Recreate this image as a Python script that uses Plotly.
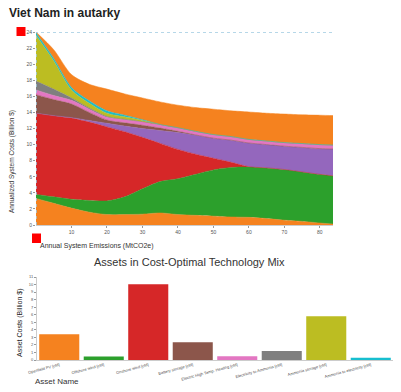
import plotly.graph_objects as go

W, H = 401, 392

# ---------- data: stacked annualized costs vs emissions ----------
emissions = [0, 5, 10, 15, 20, 25, 30, 35, 40, 45, 50, 55, 60, 65, 70, 75, 80, 84]
openfield_pv = [3.3, 2.7, 2.1, 1.6, 1.3, 1.3, 1.35, 1.5, 1.3, 1.2, 1.1, 1.0, 0.95, 0.8, 0.6, 0.45, 0.25, 0.1]
offshore_wind = [0.5, 0.8, 1.1, 1.45, 1.7, 2.2, 3.15, 3.9, 4.45, 5.1, 5.75, 6.15, 6.25, 6.3, 6.3, 6.15, 6.05, 6.0]
onshore_wind = [10.1, 10.1, 10.1, 9.75, 9.2, 8.1, 6.4, 4.75, 3.65, 2.5, 1.45, 0.65, 0.05, 0, 0, 0, 0, 0]
fossil_gen = [0, 0, 0.05, 0.2, 0.45, 0.7, 1.1, 1.6, 2.1, 2.35, 2.5, 2.75, 2.95, 2.9, 2.9, 3.05, 3.2, 3.35]
battery = [2.3, 2.0, 1.7, 1.0, 0.4, 0.4, 0.4, 0.3, 0.15, 0.05, 0, 0, 0, 0, 0, 0, 0, 0]
heating = [0.6, 0.5, 0.45, 0.4, 0.35, 0.4, 0.45, 0.45, 0.45, 0.45, 0.45, 0.45, 0.45, 0.45, 0.45, 0.48, 0.5, 0.5]
elec_to_nh3 = [1.1, 0.8, 0.3, 0.15, 0.1, 0.05, 0, 0, 0, 0, 0, 0, 0, 0, 0, 0, 0, 0]
nh3_storage = [5.7, 3.5, 1.0, 0.6, 0.4, 0.3, 0.15, 0, 0, 0, 0, 0, 0, 0, 0, 0, 0, 0]
nh3_to_elec = [0.3, 0.3, 0.3, 0.3, 0.3, 0.2, 0.1, 0, 0, 0, 0, 0, 0, 0, 0, 0, 0, 0]
other_costs = [0.1, 1.1, 1.6, 2.05, 2.7, 2.65, 2.7, 2.8, 2.8, 2.95, 3.15, 3.2, 3.4, 3.45, 3.55, 3.57, 3.65, 3.65]

series_names = ["Openfield PV", "Offshore wind", "Onshore wind", "Fossil generation",
                "Battery storage", "Electric High Temp. Heating", "Electricity to Ammonia",
                "Ammonia storage", "Ammonia to electricity", "Other costs"]
series_values = [openfield_pv, offshore_wind, onshore_wind, fossil_gen, battery, heating,
                 elec_to_nh3, nh3_storage, nh3_to_elec, other_costs]
series_colors = ["#f5821f", "#2ca02c", "#d62728", "#9467bd", "#8c564b", "#e377c2",
                 "#7f7f7f", "#bcbd22", "#17becf", "#f5821f"]

# ---------- data: asset bar chart ----------
asset_names = ["Openfield PV [cfd]", "Offshore wind [cfd]", "Onshore wind [cfd]",
               "Battery storage [cfd]", "Electric High Temp. Heating [cfd]",
               "Electricity to Ammonia [cfd]", "Ammonia storage [cfd]",
               "Ammonia to electricity [cfd]"]
asset_costs = [3.4, 0.45, 10.05, 2.35, 0.5, 1.2, 5.8, 0.3]
asset_colors = ["#f5821f", "#2ca02c", "#d62728", "#8c564b", "#e377c2", "#7f7f7f", "#bcbd22", "#17becf"]

# reference cap (dotted guide)
cap_x = [0, 0, 84]
cap_y = [0, 24, 24]

FONT = "Liberation Sans"

def px_x(p):
    return p / W

def px_y(p):
    return 1 - p / H

fig = go.Figure()

for name, vals, col in zip(series_names, series_values, series_colors):
    fig.add_trace(go.Scatter(
        x=emissions, y=vals, name=name, stackgroup="one", mode="lines",
        line=dict(width=0.5, color=col, shape="spline", smoothing=0.8),
        fillcolor=col, xaxis="x", yaxis="y", showlegend=False))

fig.add_trace(go.Scatter(
    x=cap_x, y=cap_y, mode="lines", line=dict(color="#9ecae1", width=1.5, dash="dot"),
    xaxis="x", yaxis="y", showlegend=False, hoverinfo="skip"))

fig.add_trace(go.Bar(
    x=asset_names, y=asset_costs, marker=dict(color=asset_colors, line=dict(width=0)),
    xaxis="x2", yaxis="y2", showlegend=False))

fig.update_layout(
    width=W, height=H, margin=dict(l=0, r=0, t=0, b=0),
    paper_bgcolor="white", plot_bgcolor="white",
    font=dict(family=FONT, color="#333333"),
    bargap=0.1,
    xaxis=dict(domain=[px_x(36), px_x(333)], range=[0, 83.7], anchor="y", automargin=False,
               tickvals=[10, 20, 30, 40, 50, 60, 70, 80], tickfont=dict(size=5, color="#555"),
               ticks="outside", ticklen=2, tickcolor="#999", showgrid=False, zeroline=False,
               showline=True, linecolor="#cccccc", linewidth=1),
    yaxis=dict(domain=[px_y(225), px_y(32)], range=[0, 24], anchor="x", automargin=False,
               tickvals=list(range(0, 25, 2)), tickfont=dict(size=5, color="#555"),
               ticks="outside", ticklen=2, tickcolor="#999", showgrid=False, zeroline=False,
               showline=False),
    xaxis2=dict(domain=[px_x(37), px_x(393)], anchor="y2", tickangle=-15, automargin=False,
                tickfont=dict(size=4, color="#555"), showgrid=False, zeroline=False,
                showline=True, linecolor="#cccccc", linewidth=1, ticks=""),
    yaxis2=dict(domain=[px_y(360), px_y(277)], range=[0, 11], anchor="x2", automargin=False,
                tickvals=list(range(0, 12)), tickfont=dict(size=4, color="#555"),
                ticks="outside", ticklen=2, tickcolor="#999", showgrid=False, zeroline=False,
                showline=True, linecolor="#cccccc", linewidth=1),
)

annotations = [
    dict(text="<b>Viet Nam in autarky</b>", x=px_x(7), y=px_y(13), xanchor="left", yanchor="middle",
         font=dict(size=12, color="#222")),
    dict(text="Annualized System Costs (Billion $)", x=px_x(12), y=px_y(162), textangle=-90,
         xanchor="center", yanchor="middle", font=dict(size=6.5, color="#333")),
    dict(text="Annual System Emissions (MtCO2e)", x=px_x(38), y=px_y(246), xanchor="left",
         yanchor="middle", font=dict(size=7, color="#333")),
    dict(text="Assets in Cost-Optimal Technology Mix", x=px_x(189), y=px_y(262), xanchor="center",
         yanchor="middle", font=dict(size=11, color="#333")),
    dict(text="Asset Costs (Billion $)", x=px_x(20), y=px_y(323), textangle=-90,
         xanchor="center", yanchor="middle", font=dict(size=7, color="#222")),
    dict(text="Asset Name", x=px_x(33), y=px_y(381), xanchor="left", yanchor="middle",
         font=dict(size=8, color="#333")),
]
for a in annotations:
    a.update(xref="paper", yref="paper", showarrow=False)
fig.update_layout(annotations=annotations)

shapes = [
    dict(type="rect", xref="paper", yref="paper", x0=px_x(16.5), x1=px_x(25.5), y0=px_y(36), y1=px_y(27),
         fillcolor="#ff0000", line=dict(width=0)),
    dict(type="rect", xref="paper", yref="paper", x0=px_x(32), x1=px_x(41), y0=px_y(243), y1=px_y(233.5),
         fillcolor="#ff0000", line=dict(width=0)),
]
fig.update_layout(shapes=shapes)

fig.write_html("out.html", config={"displayModeBar": False},
               post_script="document.body.style.margin='0';document.body.style.padding='0';")
